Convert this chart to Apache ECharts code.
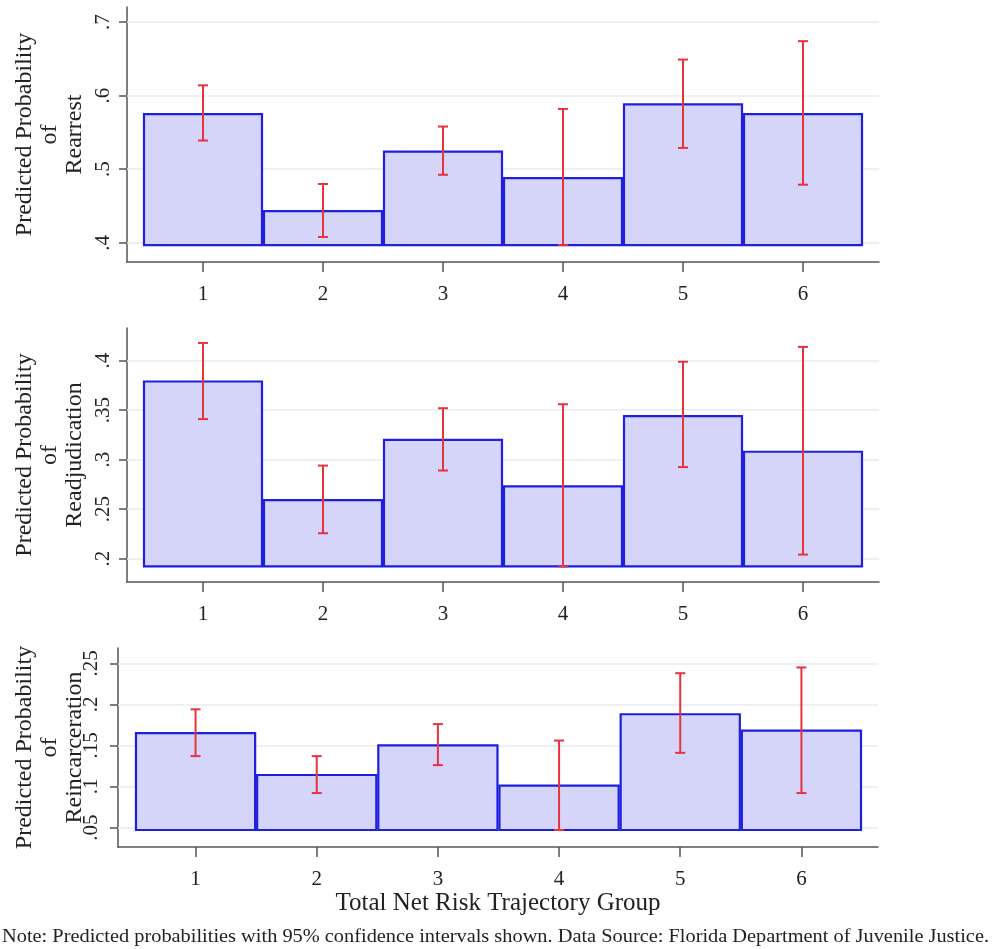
<!DOCTYPE html>
<html>
<head>
<meta charset="utf-8">
<script src="https://cdn.jsdelivr.net/npm/echarts@6/dist/echarts.min.js"></script>
<style>
html,body{margin:0;padding:0;background:#fff;}
#chart{width:995px;height:949px;}
</style>
</head>
<body>
<div id="chart"></div>
<script>
// ---- data ----
const groups = [1, 2, 3, 4, 5, 6];
const groupLabels = ['1', '2', '3', '4', '5', '6'];

const rearrest   = [0.575, 0.443, 0.524, 0.488, 0.588, 0.575];
const rearrestLo = [0.539, 0.408, 0.4925, 0.397, 0.529, 0.479];
const rearrestHi = [0.614, 0.480, 0.558, 0.582, 0.649, 0.674];

const readjudication   = [0.379, 0.259, 0.320, 0.273, 0.344, 0.308];
const readjudicationLo = [0.341, 0.2256, 0.289, 0.192, 0.2925, 0.204];
const readjudicationHi = [0.418, 0.294, 0.352, 0.356, 0.399, 0.414];

const reincarceration   = [0.165, 0.114, 0.150, 0.101, 0.188, 0.168];
const reincarcerationLo = [0.137, 0.092, 0.126, 0.047, 0.141, 0.092];
const reincarcerationHi = [0.194, 0.137, 0.176, 0.156, 0.238, 0.245];

const rearrestTicks = [0.4, 0.5, 0.6, 0.7];
const readjudicationTicks = [0.2, 0.25, 0.3, 0.35, 0.4];
const reincarcerationTicks = [0.05, 0.1, 0.15, 0.2, 0.25];

const outcomeNames = ['Rearrest', 'Readjudication', 'Reincarceration'];
const yTitlePrefix = 'Predicted Probability\nof\n';
const xTitle = 'Total Net Risk Trajectory Group';
const noteText = 'Note: Predicted probabilities with 95% confidence intervals shown. Data Source: Florida Department of Juvenile Justice.';

// ---- layout / style ----
const FONT = 'Liberation Serif';
const TEXT = '#222';
const BAR_FILL = '#d5d5fa';
const BAR_EDGE = '#1f1fe0';
const CI_COLOR = '#e6333e';
const GRID_COLOR = '#e9edf0';
const AXIS_COLOR = '#555';

const panels = [
  { vals: rearrest, lo: rearrestLo, hi: rearrestHi, ticks: rearrestTicks,
    grid: { left: 127, top: 7, width: 752, height: 255 }, ymin: 0.374, ymax: 0.7204,
    xmin: 0.3667, xmax: 6.6333, labelMargin: 13 },
  { vals: readjudication, lo: readjudicationLo, hi: readjudicationHi, ticks: readjudicationTicks,
    grid: { left: 127, top: 328, width: 752, height: 254 }, ymin: 0.1763, ymax: 0.4331,
    xmin: 0.3667, xmax: 6.6333, labelMargin: 13 },
  { vals: reincarceration, lo: reincarcerationLo, hi: reincarcerationHi, ticks: reincarcerationTicks,
    grid: { left: 118, top: 648, width: 760, height: 199 }, ymin: 0.0263, ymax: 0.2687,
    xmin: 0.36, xmax: 6.632, labelMargin: 16 }
];

function fmtTick(v) {
  return String(+v.toFixed(3)).replace(/^0\./, '.');
}

const grids = [], xAxes = [], yAxes = [], series = [], graphics = [];

panels.forEach((p, i) => {
  grids.push(Object.assign({ containLabel: false }, p.grid));
  xAxes.push({
    type: 'value', gridIndex: i, min: p.xmin, max: p.xmax,
    axisLine: { show: true, onZero: false, lineStyle: { color: AXIS_COLOR, width: 1.5 } },
    axisTick: { show: true, customValues: groups, length: 10, lineStyle: { color: AXIS_COLOR, width: 1.5 } },
    axisLabel: { show: true, customValues: groups, margin: 22,
      formatter: v => groupLabels[groups.indexOf(Math.round(v))] || '',
      fontFamily: FONT, fontSize: 21, color: TEXT },
    splitLine: { show: false }
  });
  yAxes.push({
    type: 'value', gridIndex: i, min: p.ymin, max: p.ymax,
    axisLine: { show: true, lineStyle: { color: AXIS_COLOR, width: 1.5 } },
    axisTick: { show: true, customValues: p.ticks, length: 8, lineStyle: { color: AXIS_COLOR, width: 1.5 } },
    axisLabel: { show: true, customValues: p.ticks, rotate: 90, margin: p.labelMargin,
      formatter: v => fmtTick(v), fontFamily: FONT, fontSize: 21, color: TEXT },
    splitLine: { show: false }
  });
  const base = Math.min.apply(null, p.lo);
  // grid lines (beneath bars)
  series.push({
    type: 'line', xAxisIndex: i, yAxisIndex: i, data: [], z: 1, silent: true,
    markLine: {
      z: 1, silent: true, symbol: ['none', 'none'], label: { show: false },
      lineStyle: { color: GRID_COLOR, width: 1.5, type: 'solid' },
      emphasis: { disabled: true },
      animation: false,
      data: p.ticks.map(t => ({ yAxis: t }))
    }
  });
  // bars
  series.push({
    type: 'custom', xAxisIndex: i, yAxisIndex: i, z: 5,
    data: groups.map((g, k) => [g, p.vals[k]]),
    encode: { x: 0, y: 1 },
    renderItem: (params, api) => {
      const x = api.value(0), v = api.value(1);
      const a = api.coord([x - 0.5, base]);
      const b = api.coord([x + 0.5, v]);
      return {
        type: 'rect',
        shape: { x: a[0] + 1, y: b[1], width: b[0] - a[0] - 2, height: a[1] - b[1] },
        style: { fill: BAR_FILL, stroke: BAR_EDGE, lineWidth: 2.2 }
      };
    }
  });
  // CI
  series.push({
    type: 'custom', xAxisIndex: i, yAxisIndex: i, z: 6,
    data: groups.map((g, k) => [g, p.lo[k], p.hi[k]]),
    encode: { x: 0, y: [1, 2] },
    renderItem: (params, api) => {
      const x = api.value(0);
      const lo = api.coord([x, api.value(1)]);
      const hi = api.coord([x, api.value(2)]);
      const c = 5;
      const st = { stroke: CI_COLOR, lineWidth: 2 };
      return {
        type: 'group',
        children: [
          { type: 'line', shape: { x1: lo[0], y1: lo[1], x2: hi[0], y2: hi[1] }, style: st },
          { type: 'line', shape: { x1: lo[0] - c, y1: lo[1], x2: lo[0] + c, y2: lo[1] }, style: st },
          { type: 'line', shape: { x1: hi[0] - c, y1: hi[1], x2: hi[0] + c, y2: hi[1] }, style: st }
        ]
      };
    }
  });
  graphics.push({
    type: 'text', x: 50, y: p.grid.top + p.grid.height / 2, rotation: Math.PI / 2,
    style: { text: yTitlePrefix + outcomeNames[i], fontFamily: FONT, fontSize: 24,
      lineHeight: 25, fill: TEXT, textAlign: 'center', textVerticalAlign: 'middle' }
  });
});

graphics.push({
  type: 'text', x: 498, y: 903,
  style: { text: xTitle, fontFamily: FONT, fontSize: 25, fill: TEXT,
    textAlign: 'center', textVerticalAlign: 'middle' }
});

// footer: stretch horizontally to span the reference's width
const noteSize = 18;
const cv = document.createElement('canvas').getContext('2d');
cv.font = noteSize + 'px "' + FONT + '"';
const noteW = cv.measureText(noteText).width || 870;
graphics.push({
  type: 'text', x: 2, y: 937, scaleX: 987 / noteW,
  style: { text: noteText, fontFamily: FONT, fontSize: noteSize, fill: TEXT,
    textAlign: 'left', textVerticalAlign: 'middle' }
});

const chart = echarts.init(document.getElementById('chart'), null, { renderer: 'canvas' });
chart.setOption({
  animation: false,
  backgroundColor: '#fff',
  grid: grids,
  xAxis: xAxes,
  yAxis: yAxes,
  series: series,
  graphic: graphics
});
</script>
</body>
</html>
